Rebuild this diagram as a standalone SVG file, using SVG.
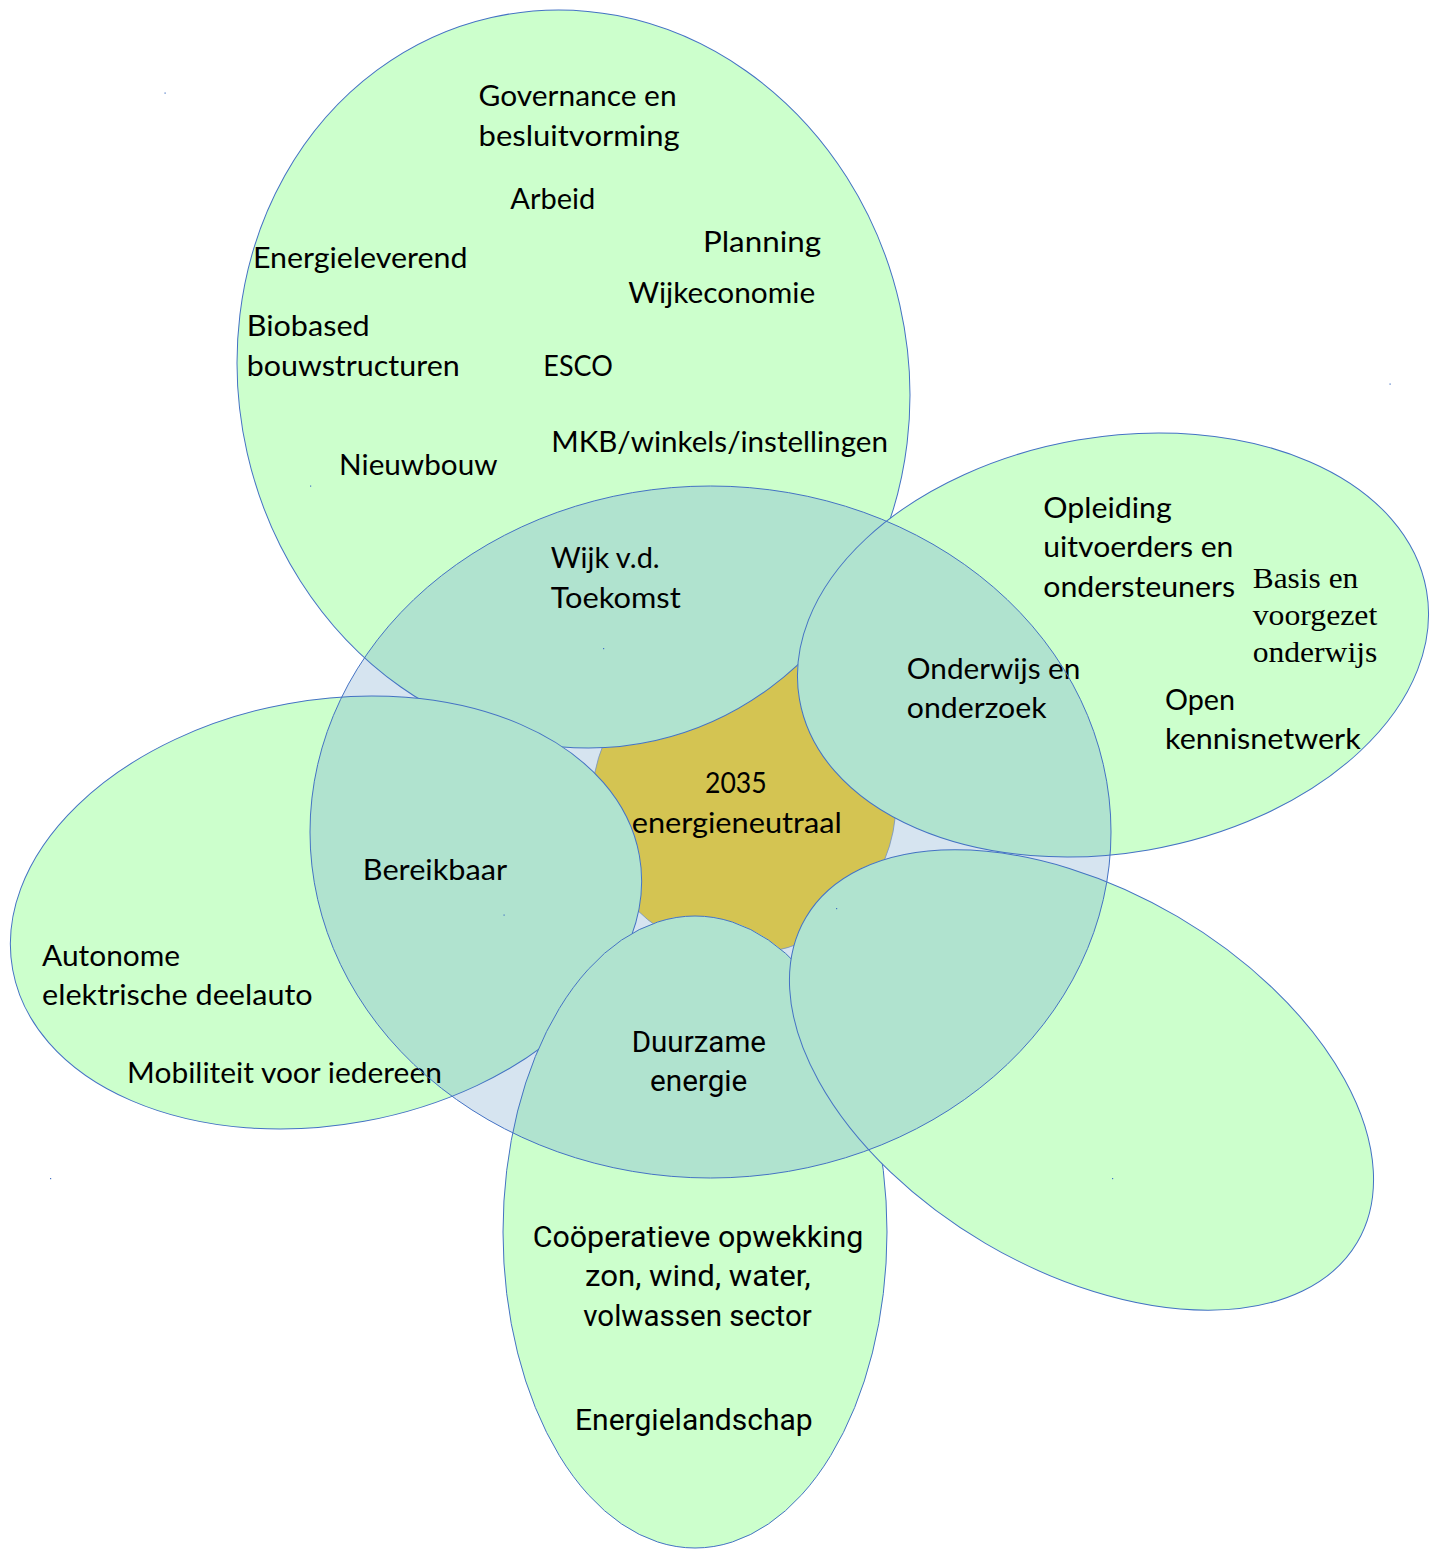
<svg xmlns="http://www.w3.org/2000/svg" xmlns:xlink="http://www.w3.org/1999/xlink" width="1436" height="1549" viewBox="0 0 1436 1549">
  <style>
    .pf { fill: #ccffcc; stroke: none; }
    .pi { fill: #b0e3cf; stroke: none; }
    .po { fill: none; stroke: #4472c4; stroke-width: 1; }
    .hubfill { fill: #d6e4f0; stroke: none; }
    .hubline { fill: none; stroke: #4472c4; stroke-width: 1; }
    .core { fill: #d4c452; stroke: #7290c4; stroke-width: 0.8; }
    .dot { fill: #4472c4; }
    text { fill: #000000; }
    .t { font-family: Lato, "Liberation Sans", sans-serif; font-size: 29.3px; }
    .ts { font-family: "Liberation Serif", serif; font-size: 29px; }
    .tr { font-family: Roboto, "Noto Sans", sans-serif; font-size: 30px; }
  </style>
  <defs>
    <clipPath id="hubclip">
      <ellipse cx="710.5" cy="832" rx="400.5" ry="346"/>
    </clipPath>
    <ellipse id="e1" cx="0" cy="0" rx="334.6" ry="370.7" transform="translate(573.5 379) rotate(-12.8)"/>
    <ellipse id="e2" cx="0" cy="0" rx="318.2" ry="208" transform="translate(1113 645) rotate(-9.83)"/>
    <ellipse id="e5" cx="0" cy="0" rx="318.5" ry="212.3" transform="translate(326 912.5) rotate(-10.35)"/>
    <ellipse id="e4" cx="0" cy="0" rx="192" ry="316" transform="translate(695 1232)"/>
    <ellipse id="e3" cx="0" cy="0" rx="320" ry="189.5" transform="translate(1081.5 1080) rotate(30.48)"/>
  </defs>

  <rect width="1436" height="1549" fill="#ffffff"/>

  <g id="hub-base">
    <ellipse class="hubfill" cx="710.5" cy="832" rx="400.5" ry="346"/>
    <circle class="core" cx="744" cy="802" r="152"/>
  </g>

  <g id="petal-wijk">
    <use xlink:href="#e1" href="#e1" class="pf"/>
    <use xlink:href="#e1" href="#e1" class="pi" clip-path="url(#hubclip)"/>
    <use xlink:href="#e1" href="#e1" class="po"/>
    <text class="t" x="478.6" y="106" textLength="198" lengthAdjust="spacingAndGlyphs">Governance en</text>
    <text class="t" x="478.6" y="145.7" textLength="201" lengthAdjust="spacingAndGlyphs">besluitvorming</text>
    <text class="t" x="510.3" y="209.3" textLength="85" lengthAdjust="spacingAndGlyphs">Arbeid</text>
    <text class="t" x="703" y="252.3" textLength="118" lengthAdjust="spacingAndGlyphs">Planning</text>
    <text class="t" x="252.9" y="267.7" textLength="214.7" lengthAdjust="spacingAndGlyphs">Energieleverend</text>
    <text class="t" x="628.2" y="302.7" textLength="187" lengthAdjust="spacingAndGlyphs">Wijkeconomie</text>
    <text class="t" x="246.7" y="336" textLength="123" lengthAdjust="spacingAndGlyphs">Biobased</text>
    <text class="t" x="246.7" y="376" textLength="213" lengthAdjust="spacingAndGlyphs">bouwstructuren</text>
    <text class="t" x="543.3" y="376" textLength="69.5" lengthAdjust="spacingAndGlyphs">ESCO</text>
    <text class="t" x="551.2" y="451.7" textLength="336.7" lengthAdjust="spacingAndGlyphs">MKB/winkels/instellingen</text>
    <text class="t" x="339.1" y="475" textLength="158.4" lengthAdjust="spacingAndGlyphs">Nieuwbouw</text>
    <text class="t" x="550.7" y="568.3" textLength="109" lengthAdjust="spacingAndGlyphs">Wijk v.d.</text>
    <text class="t" x="550.7" y="607.7" textLength="130" lengthAdjust="spacingAndGlyphs">Toekomst</text>
  </g>

  <g id="petal-onderwijs">
    <use xlink:href="#e2" href="#e2" class="pf"/>
    <use xlink:href="#e2" href="#e2" class="pi" clip-path="url(#hubclip)"/>
    <use xlink:href="#e2" href="#e2" class="po"/>
    <text class="t" x="1043.3" y="517.7" textLength="128.4" lengthAdjust="spacingAndGlyphs">Opleiding</text>
    <text class="t" x="1043.3" y="557.3" textLength="190" lengthAdjust="spacingAndGlyphs">uitvoerders en</text>
    <text class="t" x="1043.3" y="597.3" textLength="191.7" lengthAdjust="spacingAndGlyphs">ondersteuners</text>
    <text class="ts" x="1252.7" y="587.7" textLength="105.6" lengthAdjust="spacingAndGlyphs">Basis en</text>
    <text class="ts" x="1252.7" y="625.2" textLength="124.6" lengthAdjust="spacingAndGlyphs">voorgezet</text>
    <text class="ts" x="1252.7" y="661.7" textLength="124.6" lengthAdjust="spacingAndGlyphs">onderwijs</text>
    <text class="t" x="1165" y="710" textLength="70" lengthAdjust="spacingAndGlyphs">Open</text>
    <text class="t" x="1165" y="749.3" textLength="195.7" lengthAdjust="spacingAndGlyphs">kennisnetwerk</text>
    <text class="t" x="906.8" y="679.3" textLength="173.6" lengthAdjust="spacingAndGlyphs">Onderwijs en</text>
    <text class="t" x="906.8" y="718.3" textLength="139.7" lengthAdjust="spacingAndGlyphs">onderzoek</text>
  </g>

  <g id="petal-bereikbaar">
    <use xlink:href="#e5" href="#e5" class="pf"/>
    <use xlink:href="#e5" href="#e5" class="pi" clip-path="url(#hubclip)"/>
    <use xlink:href="#e5" href="#e5" class="po"/>
    <text class="t" x="362.8" y="880" textLength="144.4" lengthAdjust="spacingAndGlyphs">Bereikbaar</text>
    <text class="t" x="42.1" y="966" textLength="138" lengthAdjust="spacingAndGlyphs">Autonome</text>
    <text class="t" x="42.1" y="1005" textLength="270.6" lengthAdjust="spacingAndGlyphs">elektrische deelauto</text>
    <text class="t" x="127.1" y="1083.3" textLength="314.8" lengthAdjust="spacingAndGlyphs">Mobiliteit voor iedereen</text>
  </g>

  <g id="petal-duurzaam">
    <use xlink:href="#e4" href="#e4" class="pf"/>
    <use xlink:href="#e4" href="#e4" class="pi" clip-path="url(#hubclip)"/>
    <use xlink:href="#e4" href="#e4" class="po"/>
    <text class="tr" x="631.7" y="1052.3" textLength="134.3" lengthAdjust="spacingAndGlyphs">Duurzame</text>
    <text class="tr" x="650" y="1091.2" textLength="97.3" lengthAdjust="spacingAndGlyphs">energie</text>
    <text class="tr" x="532.7" y="1246.9" textLength="330.6" lengthAdjust="spacingAndGlyphs">Coöperatieve opwekking</text>
    <text class="tr" x="585" y="1286.2" textLength="225.7" lengthAdjust="spacingAndGlyphs">zon, wind, water,</text>
    <text class="tr" x="583.3" y="1326.3" textLength="228.4" lengthAdjust="spacingAndGlyphs">volwassen sector</text>
    <text class="tr" x="575" y="1429.8" textLength="237.7" lengthAdjust="spacingAndGlyphs">Energielandschap</text>
  </g>

  <g id="petal-empty">
    <use xlink:href="#e3" href="#e3" class="pf"/>
    <use xlink:href="#e3" href="#e3" class="pi" clip-path="url(#hubclip)"/>
    <use xlink:href="#e3" href="#e3" class="po"/>
  </g>

  <g id="hub">
    <ellipse class="hubline" cx="710.5" cy="832" rx="400.5" ry="346"/>
    <text class="t" x="705" y="793.3" textLength="61.7" lengthAdjust="spacingAndGlyphs">2035</text>
    <text class="t" x="631.7" y="832.7" textLength="210" lengthAdjust="spacingAndGlyphs">energieneutraal</text>
  </g>

  <g id="marks">
    <rect class="dot" x="164.5" y="92.5" width="1.2" height="1.2"/>
    <rect class="dot" x="1389.5" y="383.5" width="1.2" height="1.2"/>
    <rect class="dot" x="310" y="485.5" width="1.2" height="1.2"/>
    <rect class="dot" x="603" y="648" width="1.2" height="1.2"/>
    <rect class="dot" x="503.5" y="914.5" width="1.2" height="1.2"/>
    <rect class="dot" x="836" y="908" width="1.2" height="1.2"/>
    <rect class="dot" x="1112" y="1178" width="1.2" height="1.2"/>
    <rect class="dot" x="50" y="1178" width="1.2" height="1.2"/>
  </g>
</svg>
